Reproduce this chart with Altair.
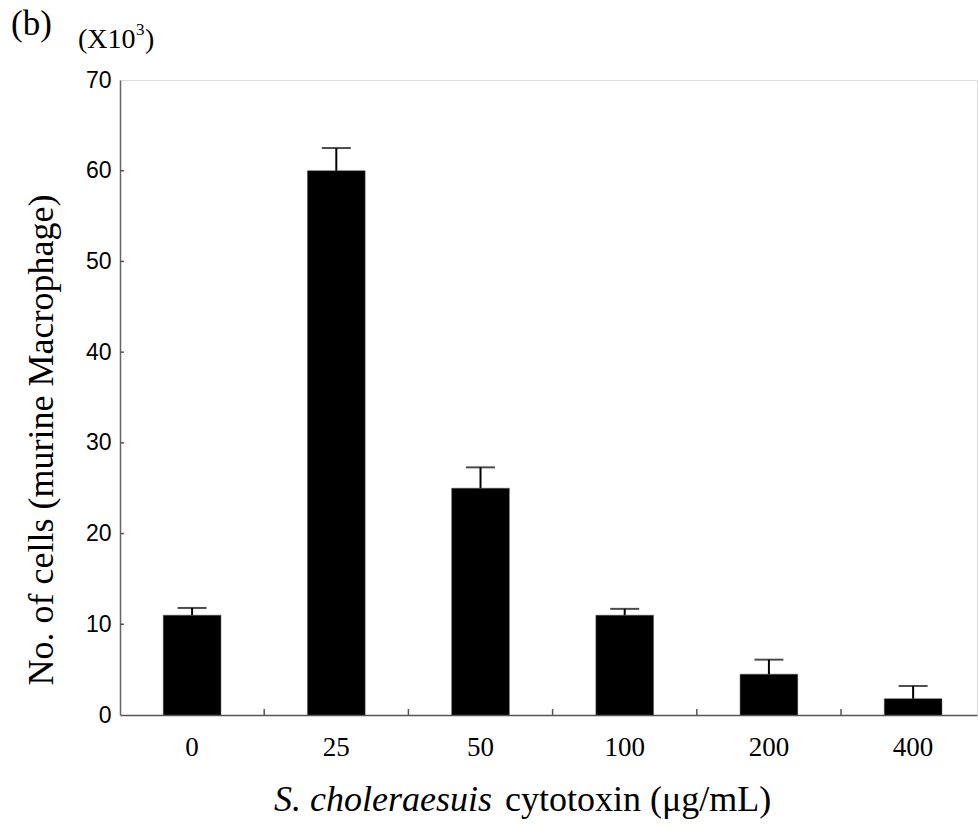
import altair as alt
import pandas as pd

doses = ["0", "25", "50", "100", "200", "400"]
means = [11.0, 60.0, 25.0, 11.0, 4.5, 1.8]
err_tops = [11.8, 62.5, 27.3, 11.7, 6.1, 3.2]
y_ticks = [0, 10, 20, 30, 40, 50, 60, 70]
boundaries = [0.5, 1.5, 2.5, 3.5, 4.5]

W, H = 857, 635
df = pd.DataFrame({"idx": list(range(len(doses))), "dose": doses, "mean": means, "top": err_tops})
df_b = pd.DataFrame({"b": boundaries})
df_y = pd.DataFrame({"v": y_ticks[1:-1]})

xs = alt.Scale(domain=[-0.5, 5.443], nice=False, zero=False)
ys = alt.Scale(domain=[0, 70], nice=False)

base = alt.Chart(df)

bars = base.transform_calculate(lo="datum.idx - 0.2", hi="datum.idx + 0.2").mark_bar(
    color="black", stroke="#555", strokeWidth=0.5
).encode(
    x=alt.X("lo:Q", scale=xs, axis=alt.Axis(labels=False, ticks=False, grid=False, title=None,
                                            domainColor="#555", domainWidth=1.5)),
    x2="hi:Q",
    y=alt.Y("mean:Q", scale=ys, axis=alt.Axis(values=y_ticks, ticks=False, tickSize=0, grid=False, title=None,
                                             labelFont="Liberation Sans", labelFontSize=23, labelColor="black",
                                             labelPadding=9, domainColor="#666", domainWidth=1.5)),
    y2=alt.Y2(datum=0),
)

stems = base.mark_rule(color="black", strokeWidth=2).encode(
    x=alt.X("idx:Q", scale=xs), y=alt.Y("mean:Q", scale=ys), y2="top:Q"
)
caps = base.mark_tick(color="black", orient="horizontal", size=29, thickness=2).encode(
    x=alt.X("idx:Q", scale=xs), y=alt.Y("top:Q", scale=ys)
)

xlabels = base.mark_text(font="Liberation Serif", fontSize=27, baseline="alphabetic", color="black").encode(
    x=alt.X("idx:Q", scale=xs), y=alt.value(676), text="dose:N"
)

xticks = alt.Chart(df_b).mark_rule(color="#555", strokeWidth=1.5).encode(
    x=alt.X("b:Q", scale=xs), y=alt.value(H - 6), y2=alt.value(H)
)
yticks = alt.Chart(df_y).mark_rule(color="#555", strokeWidth=1.5).encode(
    y=alt.Y("v:Q", scale=ys), x=alt.value(0), x2=alt.value(4)
)

def txt(s, x, y, size, style="normal", align="left", angle=0, font="Liberation Serif"):
    return alt.Chart(pd.DataFrame({"t": [s]})).mark_text(
        font=font, fontSize=size, fontStyle=style, align=align, baseline="alphabetic",
        angle=angle, color="black"
    ).encode(x=alt.value(x), y=alt.value(y), text="t:N")

title_i = txt("S. choleraesuis", 492 - 120, 811 - 80, 36, style="italic", align="right")
title_n = txt("cytotoxin (\u03bcg/mL)", 505 - 120, 811 - 80, 36)
ytitle = txt("No. of cells (murine Macrophage)", 53 - 120, 440 - 80, 36, align="center", angle=270)
panel = txt("(b)", 11 - 120, 35 - 80, 35)
unit = txt("(X10", 78 - 120, 48 - 80, 28)
sup = txt("3", 136 - 120, 35 - 80, 17)
unit2 = txt(")", 145 - 120, 48 - 80, 28)

chart = alt.layer(bars, stems, caps, xlabels, xticks, yticks, title_i, title_n, ytitle, panel, unit, sup, unit2).properties(
    width=W, height=H,
    autosize=alt.AutoSizeParams(type="none"),
    padding={"left": 120, "top": 80, "right": 1, "bottom": 114},
).configure_view(stroke=None).configure(background="white")

chart.save("out.html", embed_options={"renderer": "svg", "actions": False})
